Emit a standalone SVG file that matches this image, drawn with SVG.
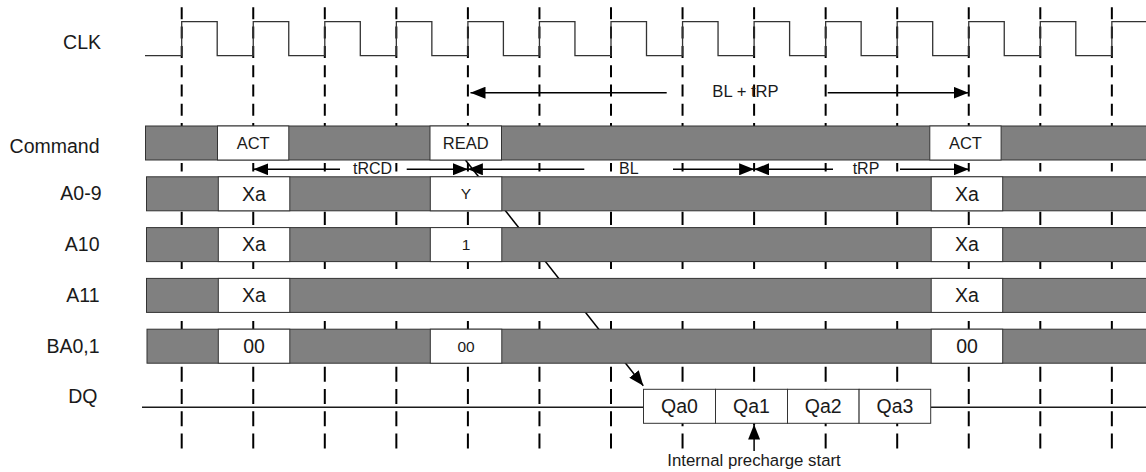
<svg xmlns="http://www.w3.org/2000/svg" width="1146" height="472" viewBox="0 0 1146 472">
<style>
.bg{fill:#ffffff}
.lbl{font-family:"Liberation Sans",Arial,sans-serif;font-size:19.5px;fill:#1a1a1a;text-anchor:end}
.bt{font-family:"Liberation Sans",Arial,sans-serif;font-size:19.5px;fill:#1a1a1a;text-anchor:middle}
.bs{font-family:"Liberation Sans",Arial,sans-serif;font-size:16.5px;fill:#1a1a1a;text-anchor:middle}
.bx{font-family:"Liberation Sans",Arial,sans-serif;font-size:15.5px;fill:#1a1a1a;text-anchor:middle}
.tl{font-family:"Liberation Sans",Arial,sans-serif;font-size:16px;fill:#1a1a1a;text-anchor:middle}
.bar{fill:#808080;stroke:#333333;stroke-width:1}
.box{fill:#ffffff;stroke:#333333;stroke-width:1}
.clk{fill:none;stroke:#333333;stroke-width:1.3}
.dash{stroke:#000000;stroke-width:2;stroke-dasharray:12 7.3}
.dashb{stroke:#000000;stroke-width:2;stroke-dasharray:15 7.3}
.tick{stroke:#000000;stroke-width:2}
.arr{stroke:#000000;stroke-width:1.5;fill:none;marker-end:url(#ah)}
.dq{stroke:#1a1a1a;stroke-width:1.6;fill:none}
</style>
<defs>
<marker id="ah" markerUnits="userSpaceOnUse" markerWidth="16" markerHeight="12" refX="15" refY="6" orient="auto">
<path d="M0,0 L15,6 L0,12 z" fill="#000000"/>
</marker>
</defs>
<rect class="bg" x="0" y="0" width="1146" height="472"/>

<g id="gridlines">
<g id="grid-top">
<line class="dash" x1="181.7" y1="7.3" x2="181.7" y2="126"/>
<line class="dash" x1="253.25" y1="7.3" x2="253.25" y2="126"/>
<line class="dash" x1="324.8" y1="7.3" x2="324.8" y2="126"/>
<line class="dash" x1="396.35" y1="7.3" x2="396.35" y2="126"/>
<line class="dash" x1="467.9" y1="7.3" x2="467.9" y2="126"/>
<line class="dash" x1="539.45" y1="7.3" x2="539.45" y2="126"/>
<line class="dash" x1="611" y1="7.3" x2="611" y2="126"/>
<line class="dash" x1="682.55" y1="7.3" x2="682.55" y2="126"/>
<line class="dash" x1="754.1" y1="7.3" x2="754.1" y2="126"/>
<line class="dash" x1="825.65" y1="7.3" x2="825.65" y2="126"/>
<line class="dash" x1="897.2" y1="7.3" x2="897.2" y2="126"/>
<line class="dash" x1="968.75" y1="7.3" x2="968.75" y2="126"/>
<line class="dash" x1="1040.3" y1="7.3" x2="1040.3" y2="126"/>
<line class="dash" x1="1111.85" y1="7.3" x2="1111.85" y2="126"/>
</g>
<g id="grid-ticks">
<path class="tick" d="M181.7,163V171.5M181.7,211.7V225M181.7,261.7V269M181.7,321V329.2
M253.25,163V171.5M253.25,211.7V225M253.25,261.7V269M253.25,321V329.2
M324.8,163V171.5M324.8,211.7V225M324.8,261.7V269M324.8,321V329.2
M396.35,163V171.5M396.35,211.7V225M396.35,261.7V269M396.35,321V329.2
M467.9,163V171.5M467.9,211.7V225M467.9,261.7V269M467.9,321V329.2
M539.45,163V171.5M539.45,211.7V225M539.45,261.7V269M539.45,321V329.2
M611,163V171.5M611,211.7V225M611,261.7V269M611,321V329.2
M682.55,163V171.5M682.55,211.7V225M682.55,261.7V269M682.55,321V329.2
M754.1,163V171.5M754.1,211.7V225M754.1,261.7V269M754.1,321V329.2
M825.65,163V171.5M825.65,211.7V225M825.65,261.7V269M825.65,321V329.2
M897.2,163V171.5M897.2,211.7V225M897.2,261.7V269M897.2,321V329.2
M968.75,163V171.5M968.75,211.7V225M968.75,261.7V269M968.75,321V329.2
M1040.3,163V171.5M1040.3,211.7V225M1040.3,261.7V269M1040.3,321V329.2
M1111.85,163V171.5M1111.85,211.7V225M1111.85,261.7V269M1111.85,321V329.2"/>
</g>
<g id="grid-bottom">
<line class="dashb" x1="181.7" y1="366.7" x2="181.7" y2="448.5"/>
<line class="dashb" x1="253.25" y1="366.7" x2="253.25" y2="448.5"/>
<line class="dashb" x1="324.8" y1="366.7" x2="324.8" y2="448.5"/>
<line class="dashb" x1="396.35" y1="366.7" x2="396.35" y2="448.5"/>
<line class="dashb" x1="467.9" y1="366.7" x2="467.9" y2="448.5"/>
<line class="dashb" x1="539.45" y1="366.7" x2="539.45" y2="448.5"/>
<line class="dashb" x1="611" y1="366.7" x2="611" y2="448.5"/>
<line class="dashb" x1="682.55" y1="366.7" x2="682.55" y2="448.5"/>
<line class="dashb" x1="754.1" y1="366.7" x2="754.1" y2="425"/>
<line class="dashb" x1="825.65" y1="366.7" x2="825.65" y2="448.5"/>
<line class="dashb" x1="897.2" y1="366.7" x2="897.2" y2="448.5"/>
<line class="dashb" x1="968.75" y1="366.7" x2="968.75" y2="448.5"/>
<line class="dashb" x1="1040.3" y1="366.7" x2="1040.3" y2="448.5"/>
<line class="dashb" x1="1111.85" y1="366.7" x2="1111.85" y2="448.5"/>
</g>
</g>

<g id="connectors">
<line id="read-to-data" class="arr" x1="465.4" y1="160" x2="643.3" y2="385.7"/>
</g>

<g id="clk">
<text class="lbl" x="101" y="48.5">CLK</text>
<path class="clk" d="M145,55.7H181.7V21.7H217.2V55.7H253.25V21.7H288.75V55.7H324.8V21.7H360.3V55.7H396.35V21.7H431.85V55.7H467.9V21.7H503.4V55.7H539.45V21.7H574.95V55.7H611V21.7H646.5V55.7H682.55V21.7H718.05V55.7H754.1V21.7H789.6V55.7H825.65V21.7H861.15V55.7H897.2V21.7H932.7V55.7H968.75V21.7H1004.25V55.7H1040.3V21.7H1075.8V55.7H1111.85V21.7H1146"/>
</g>

<g id="command">
<text class="lbl" x="99.5" y="152.5">Command</text>
<rect class="bar" x="145.5" y="126" width="1001" height="34"/>
<rect class="box" x="217.5" y="126" width="71.3" height="34"/>
<text class="bs" x="253.2" y="148.6">ACT</text>
<rect class="box" x="430" y="126" width="71.5" height="34"/>
<text class="bs" x="465.7" y="148.6">READ</text>
<rect class="box" x="929.8" y="126" width="71.3" height="34"/>
<text class="bs" x="965.4" y="148.6">ACT</text>
</g>

<g id="a0-9">
<text class="lbl" x="101.5" y="200.3">A0-9</text>
<rect class="bar" x="146.5" y="176.8" width="1000" height="34"/>
<rect class="box" x="218.3" y="176.8" width="71.5" height="34"/>
<text class="bt" x="254" y="200.5">Xa</text>
<rect class="box" x="430.3" y="176.8" width="71.5" height="34"/>
<text class="bx" x="466" y="199.3">Y</text>
<rect class="box" x="931.2" y="176.8" width="71.5" height="34"/>
<text class="bt" x="967" y="200.5">Xa</text>
</g>

<g id="a10">
<text class="lbl" x="99.5" y="251">A10</text>
<rect class="bar" x="146.5" y="227.6" width="1000" height="34"/>
<rect class="box" x="218.3" y="227.6" width="71.5" height="34"/>
<text class="bt" x="254" y="251.3">Xa</text>
<rect class="box" x="430.3" y="227.6" width="71.5" height="34"/>
<text class="bx" x="466" y="250.1">1</text>
<rect class="box" x="931.2" y="227.6" width="71.5" height="34"/>
<text class="bt" x="967" y="251.3">Xa</text>
</g>

<g id="a11">
<text class="lbl" x="99.5" y="301.5">A11</text>
<rect class="bar" x="146.5" y="278.4" width="1000" height="34"/>
<rect class="box" x="218.3" y="278.4" width="71.5" height="34"/>
<text class="bt" x="254" y="302.1">Xa</text>
<rect class="box" x="931.2" y="278.4" width="71.5" height="34"/>
<text class="bt" x="967" y="302.1">Xa</text>
</g>

<g id="ba0-1">
<text class="lbl" x="99.5" y="352.5">BA0,1</text>
<rect class="bar" x="147" y="329.2" width="1000" height="34"/>
<rect class="box" x="218.3" y="329.2" width="71.5" height="34"/>
<text class="bt" x="254" y="352.9">00</text>
<rect class="box" x="430.3" y="329.2" width="71.5" height="34"/>
<text class="bx" x="466" y="351.7">00</text>
<rect class="box" x="931.2" y="329.2" width="71.5" height="34"/>
<text class="bt" x="967" y="352.9">00</text>
</g>

<g id="dq">
<text class="lbl" x="97.5" y="403.3">DQ</text>
<path class="dq" d="M142,407.3H643.5M930.7,407.3H1146"/>
<rect class="box" x="643.5" y="389.3" width="72" height="34"/>
<text class="bt" x="679.5" y="413">Qa0</text>
<rect class="box" x="715.5" y="389.3" width="72" height="34"/>
<text class="bt" x="751.5" y="413">Qa1</text>
<rect class="box" x="787.5" y="389.3" width="71.6" height="34"/>
<text class="bt" x="823.3" y="413">Qa2</text>
<rect class="box" x="859.1" y="389.3" width="71.6" height="34"/>
<text class="bt" x="894.9" y="413">Qa3</text>
</g>

<g id="timing-arrows">
<line class="arr" x1="340" y1="169.3" x2="253.25" y2="169.3"/>
<text class="tl" x="372.5" y="173.5">tRCD</text>
<line class="arr" x1="406.7" y1="169.3" x2="467.9" y2="169.3"/>
<line class="arr" x1="584.3" y1="169.3" x2="467.9" y2="169.3"/>
<text class="tl" x="628.8" y="173.5">BL</text>
<line class="arr" x1="673" y1="169.3" x2="754.1" y2="169.3"/>
<line class="arr" x1="833" y1="169.3" x2="754.1" y2="169.3"/>
<text class="tl" x="866" y="173.5">tRP</text>
<line class="arr" x1="900" y1="169.3" x2="968.75" y2="169.3"/>
<line class="arr" x1="666.7" y1="92.7" x2="470.5" y2="92.7"/>
<text class="tl" x="745.5" y="97.3" style="font-size:16.6px">BL + tRP</text>
<line class="arr" x1="827.7" y1="92.7" x2="968.5" y2="92.7"/>
</g>

<g id="precharge">
<line class="arr" x1="754.1" y1="451" x2="754.1" y2="424.5"/>
<text class="tl" x="754" y="465.5" style="font-size:16.8px">Internal precharge start</text>
</g>
</svg>
